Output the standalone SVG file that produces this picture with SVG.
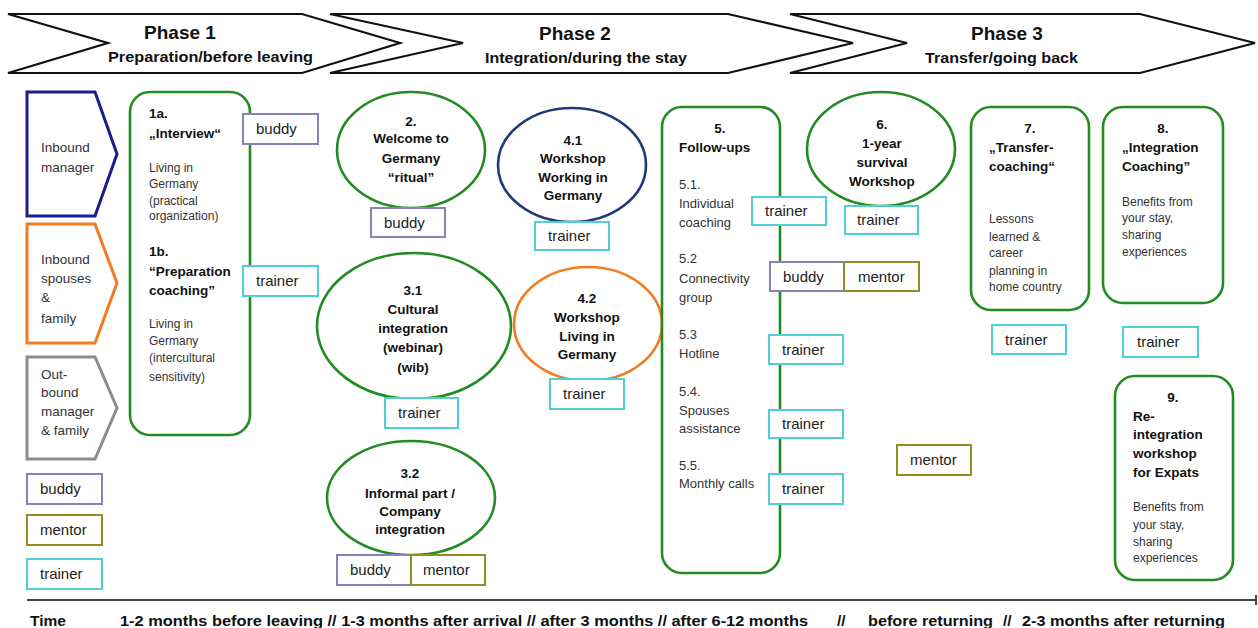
<svg xmlns="http://www.w3.org/2000/svg" width="1258" height="628" viewBox="0 0 1258 628">
<style>
.chev{fill:#fff;stroke:#111;stroke-width:2.2}
.ph{font-family:"Liberation Sans",Arial,sans-serif;font-weight:bold;font-size:19px;fill:#111}
.sub{font-family:"Liberation Sans",Arial,sans-serif;font-weight:bold;font-size:15.5px;fill:#111}
.g{fill:#fff;stroke:#228b22;stroke-width:2.6}
.b{font-family:"Liberation Sans",Arial,sans-serif;font-weight:bold;font-size:13.5px;fill:#111}
.bc{font-family:"Liberation Sans",Arial,sans-serif;font-weight:bold;font-size:13.5px;fill:#111;text-anchor:middle}
.n{font-family:"Liberation Sans",Arial,sans-serif;font-size:12px;fill:#333}
.n13{font-family:"Liberation Sans",Arial,sans-serif;font-size:13px;fill:#333}
.leg{font-family:"Liberation Sans",Arial,sans-serif;font-size:13.5px;fill:#333}
.role{font-family:"Liberation Sans",Arial,sans-serif;font-size:15px;fill:#222}
.buddy{fill:#fff;stroke:#8a80bb;stroke-width:2}
.mentor{fill:#fff;stroke:#8f8f22;stroke-width:2}
.trainer{fill:#fff;stroke:#4fcfd3;stroke-width:2}
.time{font-family:"Liberation Sans",Arial,sans-serif;font-weight:bold;font-size:15.5px;fill:#111}
</style>

<g id="phases">
<polygon class="chev" points="8,14 302,14 400,43 302,73 8,73 108,43"/>
<polygon class="chev" points="330,14 728,14 853,43 728,73 330,73 463,43"/>
<polygon class="chev" points="790,14 1140,14 1255,43 1140,73 790,73 907,43"/>
<text class="ph" x="180" y="39" text-anchor="middle">Phase 1</text>
<text class="sub" x="108" y="62" textLength="205" lengthAdjust="spacingAndGlyphs">Preparation/before leaving</text>
<text class="ph" x="575" y="40" text-anchor="middle">Phase 2</text>
<text class="sub" x="485" y="63" textLength="202" lengthAdjust="spacingAndGlyphs">Integration/during the stay</text>
<text class="ph" x="1007" y="40" text-anchor="middle">Phase 3</text>
<text class="sub" x="925" y="63" textLength="153" lengthAdjust="spacingAndGlyphs">Transfer/going back</text>
</g>

<g id="legend">
<polygon points="27,92 95,92 117,154 95,216 27,216" fill="#fff" stroke="#1c1c8c" stroke-width="3"/>
<text class="leg" x="41" y="152">Inbound</text>
<text class="leg" x="41" y="172">manager</text>
<polygon points="27,224 95,224 117,283 95,343 27,343" fill="#fff" stroke="#f47b20" stroke-width="3"/>
<text class="leg" x="41" y="264">Inbound</text>
<text class="leg" x="41" y="283">spouses</text>
<text class="leg" x="41" y="302">&amp;</text>
<text class="leg" x="41" y="323">family</text>
<polygon points="27,357 95,357 117,408 95,459 27,459" fill="#fff" stroke="#8c8c8c" stroke-width="3"/>
<text class="leg" x="41" y="379">Out-</text>
<text class="leg" x="41" y="397">bound</text>
<text class="leg" x="41" y="416">manager</text>
<text class="leg" x="41" y="435">&amp; family</text>
<rect class="buddy" x="27" y="474" width="75" height="30"/>
<text class="role" x="40" y="494">buddy</text>
<rect class="mentor" x="27" y="515" width="75" height="30"/>
<text class="role" x="40" y="535">mentor</text>
<rect class="trainer" x="27" y="559" width="75" height="30"/>
<text class="role" x="40" y="579">trainer</text>
</g>

<g id="node1">
<rect class="g" x="130" y="92" width="120" height="343" rx="20"/>
<text class="b" x="149" y="118">1a.</text>
<text class="b" x="149" y="138">„Interview“</text>
<text class="n" x="149" y="172">Living in</text>
<text class="n" x="149" y="188">Germany</text>
<text class="n" x="149" y="205">(practical</text>
<text class="n" x="149" y="220">organization)</text>
<text class="b" x="149" y="256">1b.</text>
<text class="b" x="149" y="276">“Preparation</text>
<text class="b" x="149" y="295">coaching”</text>
<text class="n" x="149" y="328">Living in</text>
<text class="n" x="149" y="345">Germany</text>
<text class="n" x="149" y="362">(intercultural</text>
<text class="n" x="149" y="381">sensitivity)</text>
<rect class="buddy" x="243" y="114" width="75" height="30"/>
<text class="role" x="256" y="134">buddy</text>
<rect class="trainer" x="243" y="266" width="75" height="30"/>
<text class="role" x="256" y="286">trainer</text>
</g>

<g id="node2">
<ellipse class="g" cx="411" cy="150" rx="74" ry="58"/>
<text class="bc" x="411" y="126">2.</text>
<text class="bc" x="411" y="143">Welcome to</text>
<text class="bc" x="411" y="163">Germany</text>
<text class="bc" x="411" y="182">“ritual”</text>
<rect class="buddy" x="371" y="208" width="74" height="29"/>
<text class="role" x="384" y="228">buddy</text>
</g>

<g id="node4-1">
<ellipse cx="572" cy="165" rx="74" ry="57" fill="#fff" stroke="#1f3a78" stroke-width="2.6"/>
<text class="bc" x="573" y="145">4.1</text>
<text class="bc" x="573" y="163">Workshop</text>
<text class="bc" x="573" y="182">Working in</text>
<text class="bc" x="573" y="200">Germany</text>
<rect class="trainer" x="535" y="222" width="74" height="28"/>
<text class="role" x="548" y="241">trainer</text>
</g>

<g id="node3-1">
<ellipse class="g" cx="414" cy="326" rx="97" ry="73"/>
<text class="bc" x="413" y="295">3.1</text>
<text class="bc" x="413" y="314">Cultural</text>
<text class="bc" x="413" y="333">integration</text>
<text class="bc" x="413" y="352">(webinar)</text>
<text class="bc" x="413" y="372">(wib)</text>
<rect class="trainer" x="385" y="398" width="73" height="30"/>
<text class="role" x="398" y="418">trainer</text>
</g>

<g id="node4-2">
<ellipse cx="588" cy="324" rx="74" ry="57" fill="#fff" stroke="#f47b20" stroke-width="2.6"/>
<text class="bc" x="587" y="303">4.2</text>
<text class="bc" x="587" y="322">Workshop</text>
<text class="bc" x="587" y="341">Living in</text>
<text class="bc" x="587" y="359">Germany</text>
<rect class="trainer" x="550" y="379" width="74" height="30"/>
<text class="role" x="563" y="399">trainer</text>
</g>

<g id="node3-2">
<ellipse class="g" cx="411" cy="498" rx="84" ry="57"/>
<text class="bc" x="410" y="478">3.2</text>
<text class="bc" x="410" y="498">Informal part /</text>
<text class="bc" x="410" y="516">Company</text>
<text class="bc" x="410" y="534">integration</text>
<rect class="buddy" x="337" y="555" width="74" height="30"/>
<text class="role" x="350" y="575">buddy</text>
<rect class="mentor" x="411" y="555" width="74" height="30"/>
<text class="role" x="423" y="575">mentor</text>
</g>

<g id="node5">
<rect class="g" x="662" y="107" width="118" height="466" rx="20"/>
<text class="bc" x="720" y="133">5.</text>
<text class="b" x="679" y="152">Follow-ups</text>
<text class="n13" x="679" y="189">5.1.</text>
<text class="n13" x="679" y="208">Individual</text>
<text class="n13" x="679" y="227">coaching</text>
<text class="n13" x="679" y="263">5.2</text>
<text class="n13" x="679" y="283">Connectivity</text>
<text class="n13" x="679" y="302">group</text>
<text class="n13" x="679" y="339">5.3</text>
<text class="n13" x="679" y="358">Hotline</text>
<text class="n13" x="679" y="396">5.4.</text>
<text class="n13" x="679" y="415">Spouses</text>
<text class="n13" x="679" y="433">assistance</text>
<text class="n13" x="679" y="470">5.5.</text>
<text class="n13" x="679" y="488">Monthly calls</text>
<rect class="trainer" x="752" y="197" width="74" height="28"/>
<text class="role" x="765" y="216">trainer</text>
<rect class="buddy" x="770" y="262" width="74" height="29"/>
<text class="role" x="783" y="282">buddy</text>
<rect class="mentor" x="844" y="262" width="75" height="29"/>
<text class="role" x="858" y="282">mentor</text>
<rect class="trainer" x="769" y="335" width="74" height="29"/>
<text class="role" x="782" y="355">trainer</text>
<rect class="trainer" x="769" y="410" width="74" height="28"/>
<text class="role" x="782" y="429">trainer</text>
<rect class="trainer" x="769" y="474" width="74" height="30"/>
<text class="role" x="782" y="494">trainer</text>
</g>

<g id="node6">
<ellipse class="g" cx="881" cy="149" rx="74" ry="57"/>
<text class="bc" x="882" y="129">6.</text>
<text class="bc" x="882" y="148">1-year</text>
<text class="bc" x="882" y="167">survival</text>
<text class="bc" x="882" y="186">Workshop</text>
<rect class="trainer" x="845" y="206" width="73" height="28"/>
<text class="role" x="857" y="225">trainer</text>
<rect class="mentor" x="897" y="445" width="74" height="30"/>
<text class="role" x="910" y="465">mentor</text>
</g>

<g id="node7">
<rect class="g" x="971" y="107" width="118" height="203" rx="20"/>
<text class="bc" x="1030" y="133">7.</text>
<text class="b" x="989" y="152">„Transfer-</text>
<text class="b" x="989" y="171">coaching“</text>
<text class="n" x="989" y="223">Lessons</text>
<text class="n" x="989" y="241">learned &amp;</text>
<text class="n" x="989" y="257">career</text>
<text class="n" x="989" y="275">planning in</text>
<text class="n" x="989" y="291">home country</text>
<rect class="trainer" x="992" y="325" width="74" height="29"/>
<text class="role" x="1005" y="345">trainer</text>
</g>

<g id="node8">
<rect class="g" x="1103" y="107" width="120" height="196" rx="20"/>
<text class="bc" x="1163" y="133">8.</text>
<text class="b" x="1122" y="152">„Integration</text>
<text class="b" x="1122" y="171">Coaching”</text>
<text class="n" x="1122" y="206">Benefits from</text>
<text class="n" x="1122" y="222">your stay,</text>
<text class="n" x="1122" y="239">sharing</text>
<text class="n" x="1122" y="256">experiences</text>
<rect class="trainer" x="1123" y="327" width="75" height="30"/>
<text class="role" x="1137" y="347">trainer</text>
</g>

<g id="node9">
<rect class="g" x="1115" y="376" width="118" height="204" rx="20"/>
<text class="bc" x="1173" y="402">9.</text>
<text class="b" x="1133" y="421">Re-</text>
<text class="b" x="1133" y="439">integration</text>
<text class="b" x="1133" y="458">workshop</text>
<text class="b" x="1133" y="477">for Expats</text>
<text class="n" x="1133" y="511">Benefits from</text>
<text class="n" x="1133" y="529">your stay,</text>
<text class="n" x="1133" y="546">sharing</text>
<text class="n" x="1133" y="562">experiences</text>
</g>

<g id="connectors">
<line x1="27" y1="600" x2="1256" y2="600" stroke="#444" stroke-width="2"/>
<line x1="1256" y1="595" x2="1256" y2="605" stroke="#444" stroke-width="2"/>
</g>

<g id="timeline">
<text class="time" x="30" y="626" font-size="17">Time</text>
<text class="time" x="120" y="626" textLength="688" lengthAdjust="spacingAndGlyphs">1-2 months before leaving // 1-3 months after arrival // after 3 months // after 6-12 months</text>
<text class="time" x="837" y="626">//</text>
<text class="time" x="868" y="626" textLength="125" lengthAdjust="spacingAndGlyphs">before returning</text>
<text class="time" x="1003" y="626">//</text>
<text class="time" x="1022" y="626" textLength="203" lengthAdjust="spacingAndGlyphs">2-3 months after returning</text>
</g>
</svg>
